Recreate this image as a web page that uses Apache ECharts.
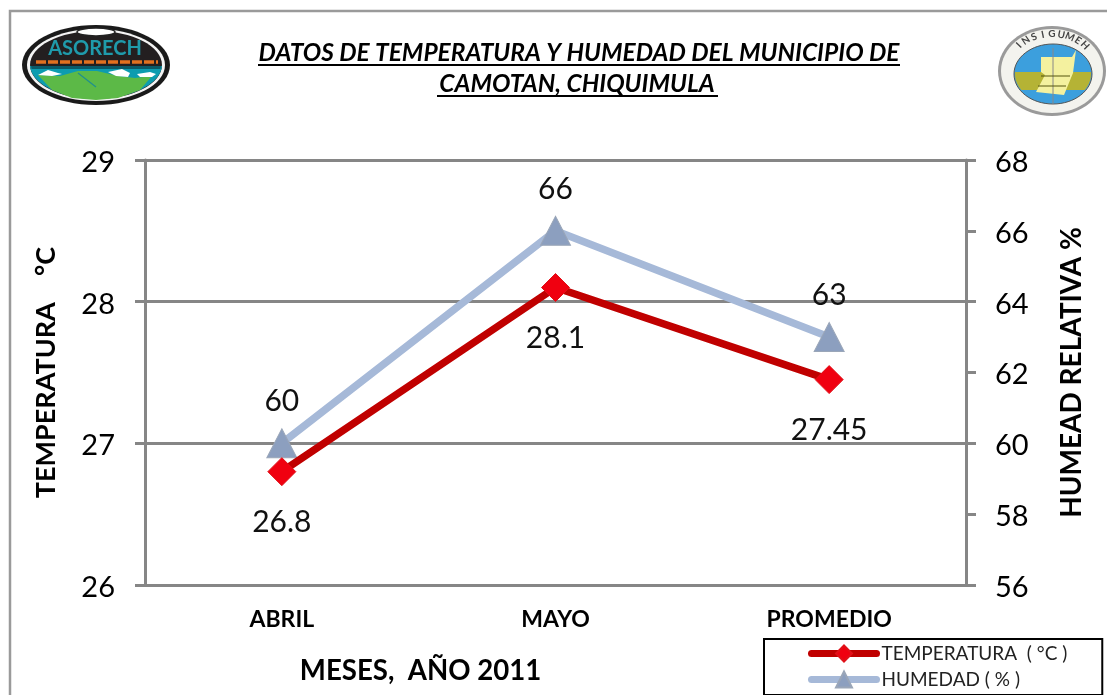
<!DOCTYPE html>
<html><head><meta charset="utf-8">
<style>html,body{margin:0;padding:0;background:#fff;overflow:hidden}#c{width:1107px;height:695px}</style>
<script src="https://cdn.jsdelivr.net/npm/echarts@6/dist/echarts.min.js"></script>
</head><body><div id="c"></div>
<script>
const months = ['ABRIL','MAYO','PROMEDIO'];
const temperatura = [26.8, 28.1, 27.45];
const humedad = [60, 66, 63];
const titleLines = ['DATOS DE TEMPERATURA Y HUMEDAD DEL MUNICIPIO DE','CAMOTAN, CHIQUIMULA'];
const F = 'Lato, "Noto Sans", sans-serif';

function ellipseSeg(cx,cy,rx,ry,y0,y1){
  const pts=[];
  for(let i=0;i<=60;i++){const y=y0+(y1-y0)*i/60;const t=(y-cy)/ry;if(Math.abs(t)>1)continue;pts.push([cx+rx*Math.sqrt(1-t*t),y]);}
  for(let i=60;i>=0;i--){const y=y0+(y1-y0)*i/60;const t=(y-cy)/ry;if(Math.abs(t)>1)continue;pts.push([cx-rx*Math.sqrt(1-t*t),y]);}
  return pts;
}
const ell=(cx,cy,rx,ry,fill,extra)=>Object.assign({type:'ellipse',shape:{cx,cy,rx,ry},style:{fill}},extra||{});
const poly=(points,fill,extra)=>Object.assign({type:'polygon',shape:{points},style:{fill}},extra||{});
const logoA=[
  ell(96,65,74,40,'#1a1a1a'),
  ell(96,65,69,36,'#f4f4f4'),
  ell(96,65,66,34,'#231f20'),
  ell(96,32,19,4,'#222',{style:{fill:'#fff',stroke:'#222',lineWidth:1.5}}),
  {type:'text',style:{x:95,y:49,text:'ASORECH',fill:'#1f9bab',font:'bold 20px '+F,align:'center',verticalAlign:'middle'}},
  poly(ellipseSeg(96,64.5,66,34,66,98),'#0d9cb0'),
  poly(ellipseSeg(96,64.5,65,34,66,69),'#0a5a68'),
  {type:'line',shape:{x1:36,y1:62,x2:158,y2:62},style:{stroke:'#e2701f',lineWidth:3.5,lineDash:[10,2]}},
  poly([[38,75],[60,76],[78,71],[97,71],[118,76],[135,78],[152,76],[140,90],[118,98],[96,100],[72,98],[52,90]],'#5cb947'),
  poly([[38,75],[48,70],[58,73],[62,74],[52,76]],'#fff'),
  poly([[108,72],[122,69],[130,73],[128,77],[116,76]],'#fff'),
  poly([[137,74],[150,72],[156,74],[152,77],[140,77]],'#fff'),
  {type:'line',shape:{x1:78,y1:73,x2:96,y2:87},style:{stroke:'#1f8f8f',lineWidth:1.2}}
];
const stamp='INSIGUMEH';
const logoB=[
  ell(1052,71,54,45,'#9a9a9a'),
  ell(1052,71,51,42,'#f3f3ee'),
  ell(1053,74,39,30,'#3c9fdd',{style:{fill:'#3c9fdd',stroke:'#555',lineWidth:1}}),
  poly(ellipseSeg(1053,74,38,29,72,90),'#b5b335'),
  poly([[1041,57],[1072,57],[1076,50],[1073,73],[1064,95],[1036,92],[1045,75],[1041,72]],'#f4f19f'),
  {type:'line',shape:{x1:1053,y1:48,x2:1053,y2:104},style:{stroke:'#888',lineWidth:1}},
  {type:'line',shape:{x1:1041,y1:76,x2:1070,y2:76},style:{stroke:'#55550f',lineWidth:1}},
  {type:'line',shape:{x1:1038,y1:86,x2:1066,y2:86},style:{stroke:'#55550f',lineWidth:1}}
].concat(stamp.split('').map((ch,i)=>{
  const a=(-46+i*11.5)*Math.PI/180;
  return {type:'text',x:1052+46*Math.sin(a),y:71-37*Math.cos(a),rotation:-a,
    style:{text:ch,x:0,y:0,fill:'#444',font:'bold 10px '+F,align:'center',verticalAlign:'middle'}};
}));
const tickRich={a:{fontFamily:F,fontSize:29,color:'#000',padding:[5,0,0,0]}};

const option={
  animation:false,
  backgroundColor:'#fff',
  textStyle:{fontFamily:F},
  grid:{left:145,right:141,top:160,bottom:110,containLabel:false},
  legend:{
    orient:'vertical',left:764,top:639,
    padding:[5,35,6,44],itemGap:7,itemWidth:65,itemHeight:20,
    align:'left',
    backgroundColor:'#fff',borderColor:'#000',borderWidth:2,
    lineStyle:{width:7,cap:'round'},
    textStyle:{fontFamily:F,fontSize:19,color:'#222'},
    data:['TEMPERATURA  ( °C )','HUMEDAD ( % )']
  },
  xAxis:{
    type:'category',data:months,
    name:'MESES,  AÑO 2011',nameLocation:'middle',nameGap:72,
    nameTextStyle:{fontFamily:F,fontSize:27.6,fontWeight:'bold',color:'#000',align:'center',padding:[0,270,0,0]},
    axisLine:{lineStyle:{color:'#868686',width:3}},
    axisTick:{show:false},
    axisLabel:{fontFamily:F,fontSize:23,fontWeight:'bold',color:'#000',margin:23}
  },
  yAxis:[{
    type:'value',min:26,max:29,interval:1,
    name:'TEMPERATURA    °C',nameLocation:'middle',nameRotate:90,nameGap:85,
    nameTextStyle:{fontFamily:F,fontSize:27,fontWeight:'bold',color:'#000'},
    axisLine:{show:true,lineStyle:{color:'#868686',width:3}},
    axisTick:{show:true,length:10,lineStyle:{color:'#868686',width:3}},
    splitLine:{show:true,lineStyle:{color:'#868686',width:3}},
    axisLabel:{margin:30,formatter:'{a|{value}}',rich:tickRich}
  },{
    type:'value',min:56,max:68,interval:2,position:'right',
    name:'HUMEAD RELATIVA %',nameLocation:'middle',nameRotate:90,nameGap:92,
    nameTextStyle:{fontFamily:F,fontSize:28,fontWeight:'bold',color:'#000'},
    axisLine:{show:true,lineStyle:{color:'#868686',width:3}},
    axisTick:{show:true,length:10,lineStyle:{color:'#868686',width:3}},
    splitLine:{show:false},
    axisLabel:{margin:29,formatter:'{a|{value}}',rich:tickRich}
  }],
  series:[{
    name:'TEMPERATURA  ( °C )',type:'line',yAxisIndex:0,data:temperatura,z:4,
    symbol:'diamond',symbolSize:28,
    lineStyle:{color:'#c00000',width:7.5,cap:'round'},
    itemStyle:{color:'#f00010',borderColor:'#e01018',borderWidth:1},
    label:{show:true,position:'bottom',distance:21,fontFamily:F,fontSize:30,color:'#111'}
  },{
    name:'HUMEDAD ( % )',type:'line',yAxisIndex:1,data:humedad,z:3,
    symbol:'triangle',symbolSize:[30,29],
    lineStyle:{color:'#a6b9d8',width:7.5,cap:'round'},
    itemStyle:{color:'#8c9fbf',borderColor:'#9aa6b8',borderWidth:1},
    label:{show:true,position:'top',distance:12,fontFamily:F,fontSize:30,color:'#111'}
  }],
  graphic:{elements:[
    {type:'rect',silent:true,z:-1,shape:{x:10,y:11,width:1200,height:800},style:{fill:'#fff',stroke:'#9a9a9a',lineWidth:2.5}},
    {type:'group',children:logoA},
    {type:'group',children:logoB},
    {type:'text',style:{x:579,y:53,text:titleLines[0],fill:'#000',font:'italic bold 24.5px '+F,align:'center',verticalAlign:'middle'}},
    {type:'text',style:{x:577,y:84,text:titleLines[1],fill:'#000',font:'italic bold 24.5px '+F,align:'center',verticalAlign:'middle'}},
    {type:'line',shape:{x1:258,y1:65,x2:900,y2:65},style:{stroke:'#000',lineWidth:2}},
    {type:'line',shape:{x1:437,y1:96,x2:718,y2:96},style:{stroke:'#000',lineWidth:2}}
  ]}
};
const chart=echarts.init(document.getElementById('c'),null,{renderer:'canvas'});
chart.setOption(option);
</script></body></html>
